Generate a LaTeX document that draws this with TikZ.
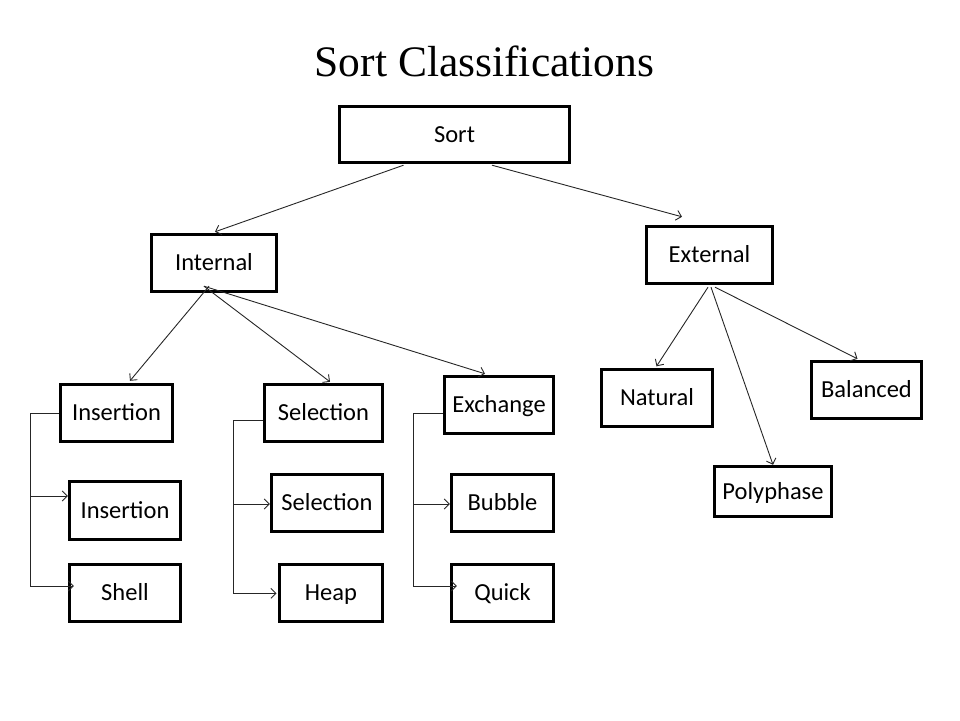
\documentclass[tikz,border=0pt]{standalone}
\usepackage{fontspec}
\setmainfont{Carlito}
\newfontfamily\titlefont{Liberation Serif}
\usetikzlibrary{arrows.meta,calc}
\begin{document}
\begin{tikzpicture}[x=1pt,y=-1pt,
  box/.style={draw=black,line width=3.4pt,fill=white,inner sep=0pt,
    minimum height=57pt,text height=18pt,text depth=3pt,
    font=\fontsize{24.5}{29}\selectfont},
  conn/.style={draw=black!85,line width=0.9pt,
    -{Straight Barb[length=5pt,width=10pt,line width=0.9pt]}},
  plain/.style={draw=black!85,line width=0.9pt}]
\useasboundingbox (0,0) rectangle (960,720);
\node[anchor=base,font=\titlefont\fontsize{43.5}{50}\selectfont] (title) at (484.5,76) {Sort Classifications};

\node[box,minimum width=230pt,minimum height=56pt] (sort) at (454.5,134.5) {Sort};
\node[box,minimum width=125pt] (int) at (214,263) {Internal};
\node[box,minimum width=126pt] (ext) at (709.5,255) {External};

\node[box,minimum width=112pt] (ins) at (116.5,413) {Insertion};
\node[box,minimum width=111pt,minimum height=58pt] (ins2) at (125,510.5) {Insertion};
\node[box,minimum width=111pt] (shell) at (125,593) {Shell};

\node[box,minimum width=118pt] (sel) at (323.5,413) {Selection};
\node[box,minimum width=111pt] (sel2) at (327,503) {Selection};
\node[box,minimum width=103pt] (heap) at (331,593) {Heap};

\node[box,minimum width=109pt] (exc) at (499,405) {Exchange};
\node[box,minimum width=102pt] (bub) at (502.5,503) {Bubble};
\node[box,minimum width=102pt] (quick) at (502.5,593) {Quick};

\node[box,minimum width=111pt] (nat) at (657,398) {Natural};
\node[box,minimum width=110pt] (bal) at (866.5,390) {Balanced};
\node[box,minimum width=117pt,minimum height=50pt] (poly) at (773,491.5) {Polyphase};

% tree connectors
\draw[conn] ($(sort.south)+(-51,1)$) -- ($(int.north)+(1,-1)$);
\draw[conn] ($(sort.south)+(37.5,1)$) -- ($(ext.north)+(-27.5,-8)$);
\draw[conn] ($(int.south)+(-5,-7)$) -- ($(ins.north)+(13.5,-2)$);
\draw[conn] ($(int.south)+(-10,-7)$) -- ($(sel.north)+(6.5,-1)$);
\draw[conn] ($(int.south)+(-10,-7)$) -- ($(exc.north)+(-14,-1)$);
\draw[conn] ($(ext.south)+(-1.5,2)$) -- ($(nat.north)+(-0.5,-1.5)$);
\draw[conn] ($(ext.south)+(1.5,2)$) -- (poly.north);
\draw[conn] ($(ext.south)+(5.5,2)$) -- ($(bal.north)+(-9,-1)$);

% bracket connectors
\coordinate (insbus) at ($(ins.west)+(-28.5,0)$);
\draw[plain] (ins.west) -- (insbus);
\draw[conn] (insbus) |- ($(ins2.west)+(0,-14.5)$);
\draw[conn] (insbus) |- ($(shell.west)+(6,-7)$);

\coordinate (selbus) at ($(sel.west)+(-29.7,7.7)$);
\draw[plain] ($(sel.west)+(0,7.7)$) -- (selbus);
\draw[conn] (selbus) |- ($(sel2.west)+(0,1)$);
\draw[conn] (selbus) |- ($(heap.west)+(-1.3,0.3)$);

\coordinate (excbus) at ($(exc.west)+(-29.7,8.3)$);
\draw[plain] ($(exc.west)+(0,8.3)$) -- (excbus);
\draw[conn] (excbus) |- ($(bub.west)+(0,1)$);
\draw[conn] (excbus) |- ($(quick.west)+(7,-7)$);
\end{tikzpicture}
\end{document}
